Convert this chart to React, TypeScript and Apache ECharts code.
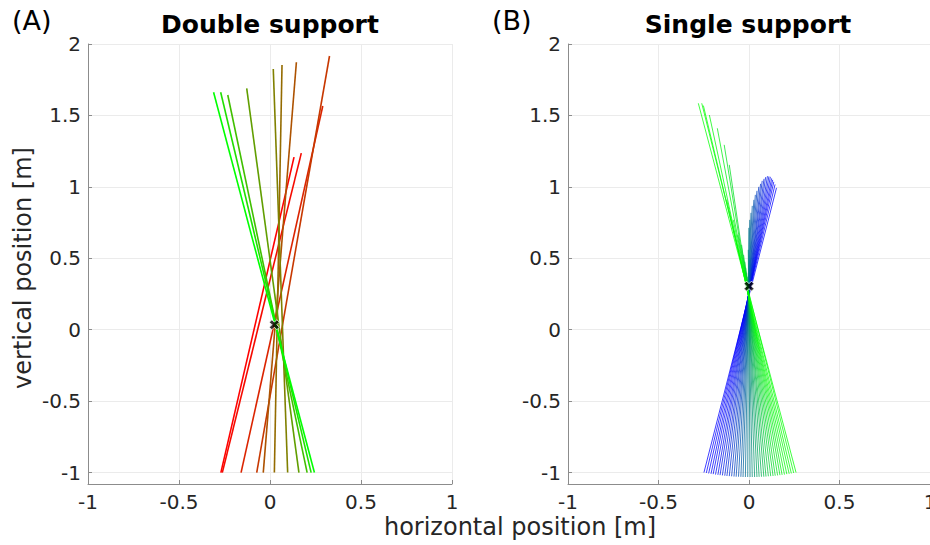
import React, { useEffect, useRef } from 'react';
import * as echarts from 'echarts';

// Axis ticks
const xTicks = [-1, -0.5, 0, 0.5, 1];
const yTicks = [-1, -0.5, 0, 0.5, 1, 1.5, 2];

// Panel A: Double support (segments from bottom point to top point)
const dsBottomX = [-0.27, -0.262, -0.159, -0.073, -0.037, 0.024, 0.097, 0.159, 0.204, 0.226, 0.244];
const dsBottomY = [-1, -1, -1, -1, -1, -1, -1, -1, -1, -1, -1];
const dsTopX = [0.132, 0.172, 0.29, 0.327, 0.145, 0.066, 0.018, -0.128, -0.232, -0.271, -0.31];
const dsTopY = [1.208, 1.236, 1.566, 1.916, 1.872, 1.853, 1.825, 1.69, 1.643, 1.662, 1.662];
const dsShade = [0, 0.04, 0.14, 0.22, 0.32, 0.42, 0.5, 0.62, 0.75, 0.88, 1];
const dsMarker = [0.024, 0.035];

// Panel B: Single support
const ssBottomX = [-0.249, -0.236, -0.223, -0.21, -0.198, -0.185, -0.172, -0.16, -0.147, -0.134, -0.122, -0.109, -0.096, -0.083, -0.071, -0.058, -0.045, -0.033, -0.02, -0.007, 0.006, 0.018, 0.031, 0.044, 0.056, 0.069, 0.082, 0.094, 0.107, 0.12, 0.133, 0.145, 0.158, 0.171, 0.183, 0.196, 0.209, 0.222, 0.234, 0.247, 0.26];
const ssBottomY = [-1.0, -1.003, -1.006, -1.009, -1.011, -1.014, -1.016, -1.018, -1.02, -1.022, -1.024, -1.025, -1.026, -1.028, -1.029, -1.029, -1.03, -1.031, -1.031, -1.031, -1.031, -1.031, -1.031, -1.031, -1.03, -1.029, -1.029, -1.028, -1.026, -1.025, -1.024, -1.022, -1.02, -1.018, -1.016, -1.014, -1.011, -1.009, -1.006, -1.003, -1.0];
const ssTopX = [0.152, 0.144, 0.137, 0.131, 0.125, 0.118, 0.11, 0.102, 0.092, 0.083, 0.073, 0.064, 0.054, 0.044, 0.035, 0.027, 0.018, 0.011, 0.004, -0.001, -0.004, -0.003, -0.004, -0.006, -0.008, -0.01, -0.013, -0.018, -0.023, -0.03, -0.041, -0.109, -0.137, -0.061, -0.175, -0.087, -0.219, -0.123, -0.252, -0.261, -0.28];
const ssTopY = [0.993, 1.017, 1.035, 1.049, 1.059, 1.07, 1.073, 1.075, 1.068, 1.056, 1.042, 1.021, 1.0, 0.972, 0.944, 0.909, 0.867, 0.818, 0.769, 0.713, 0.559, 0.287, 0.301, 0.322, 0.343, 0.371, 0.399, 0.434, 0.476, 0.524, 0.594, 1.154, 1.294, 0.664, 1.41, 0.769, 1.503, 0.909, 1.569, 1.585, 1.585];
const ssMarker = [0, 0.305];

const FONT = 'DejaVu Sans';
const TICK_COLOR = '#262626';
const AXIS_COLOR = '#8c8c8c';
const GRID_COLOR = '#ebebeb';
const X_MARK = 'path://M0,2.5 L2.5,0 L5,2.5 L7.5,0 L10,2.5 L7.5,5 L10,7.5 L7.5,10 L5,7.5 L2.5,10 L0,7.5 L2.5,5 Z';

function xAxisFor(gridIndex: number) {
  return {
    type: 'value',
    gridIndex,
    min: -1,
    max: 1,
    interval: 0.5,
    axisLine: { show: true, onZero: false, lineStyle: { color: AXIS_COLOR, width: 1 } },
    axisTick: { show: true, inside: true, length: 4, lineStyle: { color: AXIS_COLOR } },
    axisLabel: { color: TICK_COLOR, fontSize: 20, fontFamily: FONT, margin: 8, customValues: xTicks },
    splitLine: { show: true, lineStyle: { color: GRID_COLOR, width: 1 } },
  };
}

function yAxisFor(gridIndex: number) {
  return {
    type: 'value',
    gridIndex,
    min: -1.08,
    max: 2,
    axisLine: { show: true, onZero: false, lineStyle: { color: AXIS_COLOR, width: 1 } },
    axisTick: { show: true, inside: true, length: 4, lineStyle: { color: AXIS_COLOR }, customValues: yTicks },
    axisLabel: { color: TICK_COLOR, fontSize: 20, fontFamily: FONT, margin: 7, customValues: yTicks },
    splitLine: { show: true, lineStyle: { color: GRID_COLOR, width: 1 } },
  };
}

export default function App() {
  const ref = useRef<HTMLDivElement>(null);

  useEffect(() => {
    if (!ref.current) return;
    const chart = echarts.init(ref.current, null, { renderer: 'svg' });

    const series: any[] = [];
    dsBottomX.forEach((bx, i) => {
      const t = dsShade[i];
      series.push({
        type: 'line',
        xAxisIndex: 0,
        yAxisIndex: 0,
        symbol: 'none',
        silent: true,
        data: [[bx, dsBottomY[i]], [dsTopX[i], dsTopY[i]]],
        lineStyle: { width: 1.6, color: `rgb(${Math.round(255 * (1 - t))},${Math.round(255 * t)},0)` },
      });
    });
    ssBottomX.forEach((bx, i) => {
      const t = i / (ssBottomX.length - 1);
      const s = t * t * (3 - 2 * t);
      const g = Math.round(255 * s);
      const b = Math.round(255 * (1 - s));
      series.push({
        type: 'line',
        xAxisIndex: 1,
        yAxisIndex: 1,
        symbol: 'none',
        silent: true,
        data: [[bx, ssBottomY[i]], [ssTopX[i], ssTopY[i]]],
        lineStyle: { width: 0.75, color: `rgb(0,${g},${b})` },
      });
    });
    const markerStyle = { color: '#000', borderColor: '#fff', borderWidth: 1 };
    series.push({
      type: 'scatter',
      xAxisIndex: 0,
      yAxisIndex: 0,
      symbol: X_MARK,
      symbolSize: 10,
      data: [dsMarker],
      itemStyle: markerStyle,
      z: 10,
    });
    series.push({
      type: 'scatter',
      xAxisIndex: 1,
      yAxisIndex: 1,
      symbol: X_MARK,
      symbolSize: 10,
      data: [ssMarker],
      itemStyle: markerStyle,
      z: 10,
    });

    chart.setOption({
      animation: false,
      backgroundColor: '#ffffff',
      grid: [
        { left: 88, top: 44, width: 364, height: 440, outerBoundsMode: 'none', containLabel: false },
        { left: 568, top: 44, width: 362, height: 440, outerBoundsMode: 'none', containLabel: false },
      ],
      xAxis: [xAxisFor(0), xAxisFor(1)],
      yAxis: [yAxisFor(0), yAxisFor(1)],
      series,
      graphic: [
        { type: 'text', left: 12, top: 7, style: { text: '(A)', fontSize: 27, fontFamily: FONT, fill: '#000' } },
        { type: 'text', left: 492, top: 7, style: { text: '(B)', fontSize: 27, fontFamily: FONT, fill: '#000' } },
        { type: 'text', x: 270, y: 24, style: { text: 'Double support', fontSize: 25, fontWeight: 'bold', fontFamily: FONT, fill: '#000', align: 'center', verticalAlign: 'middle' } },
        { type: 'text', x: 748, y: 24, style: { text: 'Single support', fontSize: 25, fontWeight: 'bold', fontFamily: FONT, fill: '#000', align: 'center', verticalAlign: 'middle' } },
        { type: 'text', x: 520, y: 527, style: { text: 'horizontal position [m]', fontSize: 24, fontFamily: FONT, fill: TICK_COLOR, align: 'center', verticalAlign: 'middle' } },
        { type: 'text', x: 23, y: 268, rotation: Math.PI / 2, style: { text: 'vertical position [m]', fontSize: 24, fontFamily: FONT, fill: TICK_COLOR, align: 'center', verticalAlign: 'middle' } },
      ],
    });

    return () => chart.dispose();
  }, []);

  return <div ref={ref} style={{ position: 'fixed', left: 0, top: 0, width: 930, height: 545 }} />;
}
